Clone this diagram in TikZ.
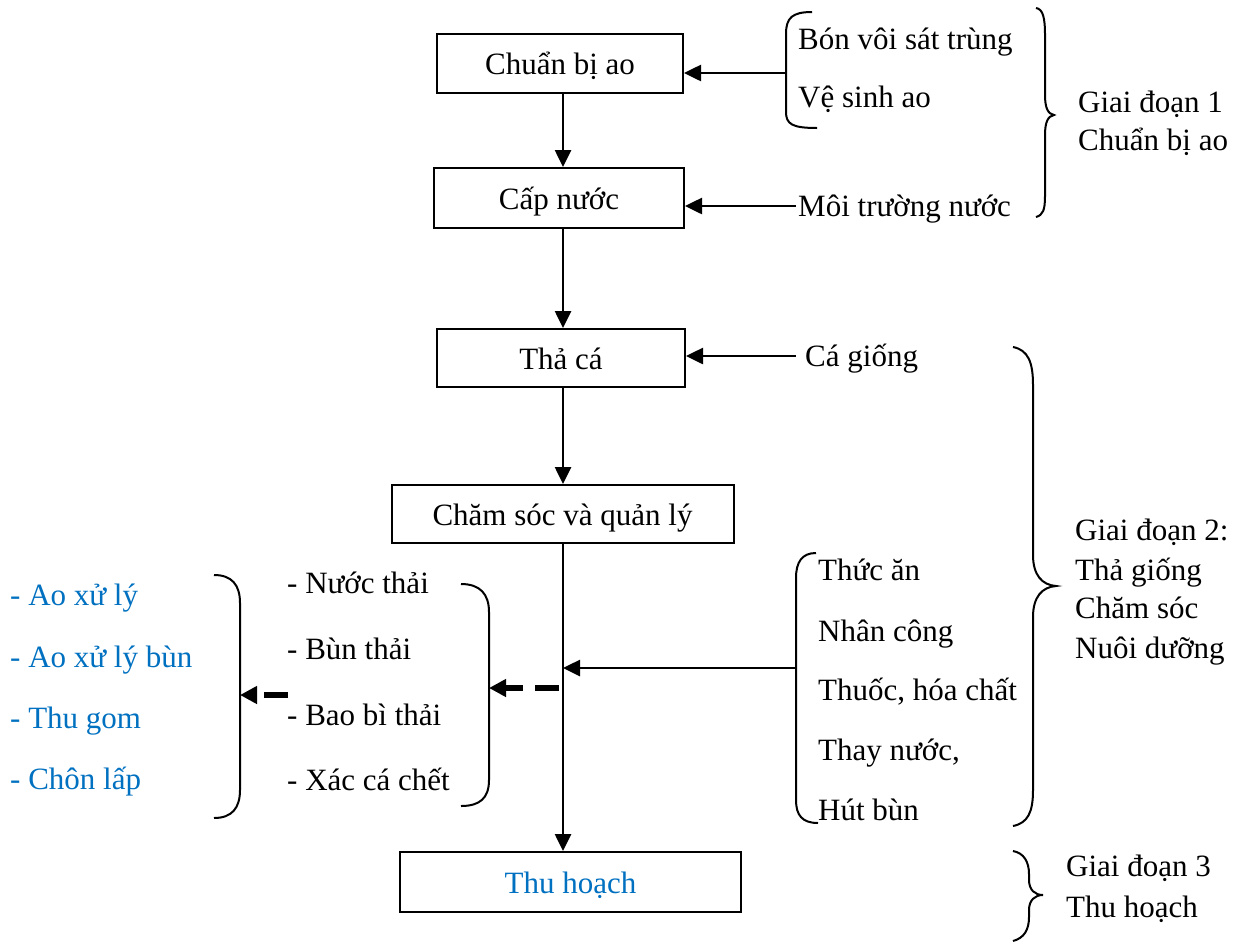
\documentclass[tikz,border=0pt]{standalone}
\usepackage{fontspec}
\setmainfont{Liberation Serif}
\usetikzlibrary{arrows.meta}
\definecolor{wordblue}{HTML}{0070C0}
\begin{document}
\begin{tikzpicture}[x=1pt,y=-1pt,
  every node/.style={font=\fontsize{31}{37}\selectfont},
  boxnode/.style={draw,line width=2pt,inner sep=0pt,text height=26pt,text depth=4pt},
  txt/.style={anchor=base west,inner sep=0pt},
  arr/.style={line width=2.6pt,-{Triangle[length=17pt,width=16pt]}},
  dasharr/.style={line width=5.5pt,dash pattern=on 24pt off 12pt,-{Triangle[length=17pt,width=17pt]}},
  brk/.style={line width=2pt}]
\useasboundingbox (0,0) rectangle (1244,943);

% main boxes
\node[boxnode,minimum width=246pt,minimum height=59pt] (b1) at (560,63) {Chuẩn bị ao};
\node[boxnode,minimum width=250pt,minimum height=60pt] (b2) at (559,198) {Cấp nước};
\node[boxnode,minimum width=248pt,minimum height=58pt] (b3) at (561,358) {Thả cá};
\node[boxnode,minimum width=342pt,minimum height=58pt] (b4) at (562.5,514) {Chăm sóc và quản lý};
\node[boxnode,minimum width=341pt,minimum height=60pt,text=wordblue] (b5) at (570.5,882) {Thu hoạch};

% trunk arrows
\draw[arr] (b1.south -| 563,0) -- (b2.north -| 563,0);
\draw[arr] (b2.south -| 563,0) -- (b3.north -| 563,0);
\draw[arr] (b3.south -| 563,0) -- (b4.north -| 563,0);
\draw[arr] (b4.south -| 563,0) -- (b5.north -| 563,0);

% stage 1 inputs
\node[txt] (t1) at (798,49) {Bón vôi sát trùng};
\node[txt] (t2) at (798,107) {Vệ sinh ao};
\draw[brk] (812,12) .. controls (792,12) and (786,18) .. (786,34) -- (786,112) .. controls (786,124) and (792,128) .. (817,128);
\coordinate (br1) at (786,73);
\draw[arr] (br1) -- (b1.east |- br1);

\node[txt] (t3) at (798,216) {Môi trường nước};
\coordinate (br2) at (796,206);
\draw[arr] (br2) -- (b2.east |- br2);

\node[txt] (t4) at (805,366) {Cá giống};
\coordinate (br3) at (796,356);
\draw[arr] (br3) -- (b3.east |- br3);

% stage 2 inputs
\node[txt] (i1) at (818,580) {Thức ăn};
\node[txt] (i2) at (818,641) {Nhân công};
\node[txt] (i3) at (818,700) {Thuốc, hóa chất};
\node[txt] (i4) at (818,760) {Thay nước,};
\node[txt] (i5) at (818,820) {Hút bùn};
\draw[brk] (816,553) .. controls (802,553) and (796,562) .. (796,578) -- (796,800) .. controls (796,815) and (802,823) .. (818,823);
\coordinate (br4) at (796,668);
\coordinate (trunk) at (563,668);
\draw[arr] (br4) -- (trunk);

% waste outputs
\node[txt] (w1) at (287,593) {- Nước thải};
\node[txt] (w2) at (287,659) {- Bùn thải};
\node[txt] (w3) at (287,725) {- Bao bì thải};
\node[txt] (w4) at (287,790) {- Xác cá chết};
\draw[brk] (461,584) .. controls (480,584) and (489,594) .. (489,612) -- (489,780) .. controls (489,798) and (480,806) .. (461,806);
\coordinate (wbr) at (489,688);
\coordinate (wsrc) at (559,688);
\draw[dasharr] (wsrc) -- (wbr);

% treatment
\node[txt,text=wordblue] (r1) at (10,605) {- Ao xử lý};
\node[txt,text=wordblue] (r2) at (10,667) {- Ao xử lý bùn};
\node[txt,text=wordblue] (r3) at (10,728) {- Thu gom};
\node[txt,text=wordblue] (r4) at (10,789) {- Chôn lấp};
\draw[brk] (214,575) .. controls (232,575) and (240,585) .. (240,603) -- (240,790) .. controls (240,808) and (232,818) .. (214,818);
\coordinate (rbr) at (240,695);
\coordinate (rsrc) at (288,695);
\draw[dasharr] (rsrc) -- (rbr);

% stage braces
\draw[brk] (1036,8) .. controls (1043,9) and (1045,18) .. (1045,35) -- (1045,95) .. controls (1045,108) and (1048,114) .. (1054,115)
  .. controls (1048,116) and (1045,122) .. (1045,135) -- (1045,196) .. controls (1045,210) and (1043,215) .. (1036,217);
\node[txt] (g1a) at (1078,112) {Giai đoạn 1};
\node[txt] (g1b) at (1078,150) {Chuẩn bị ao};

\draw[brk] (1013,347) .. controls (1028,350) and (1033,362) .. (1033,385) -- (1033,555) .. controls (1033,575) and (1042,585) .. (1056,586)
  .. controls (1042,587) and (1033,597) .. (1033,617) -- (1033,790) .. controls (1033,812) and (1028,823) .. (1013,826);
\node[txt] (g2a) at (1075,540) {Giai đoạn 2:};
\node[txt] (g2b) at (1075,580) {Thả giống};
\node[txt] (g2c) at (1075,618) {Chăm sóc};
\node[txt] (g2d) at (1075,658) {Nuôi dưỡng};

\draw[brk] (1013,851) .. controls (1024,853) and (1029,862) .. (1029,874) -- (1029,880) .. controls (1029,890) and (1035,895) .. (1043,895)
  .. controls (1035,895) and (1029,900) .. (1029,910) -- (1029,917) .. controls (1029,930) and (1024,938) .. (1013,941);
\node[txt] (g3a) at (1066,876) {Giai đoạn 3};
\node[txt] (g3b) at (1066,917) {Thu hoạch};
\end{tikzpicture}
\end{document}
